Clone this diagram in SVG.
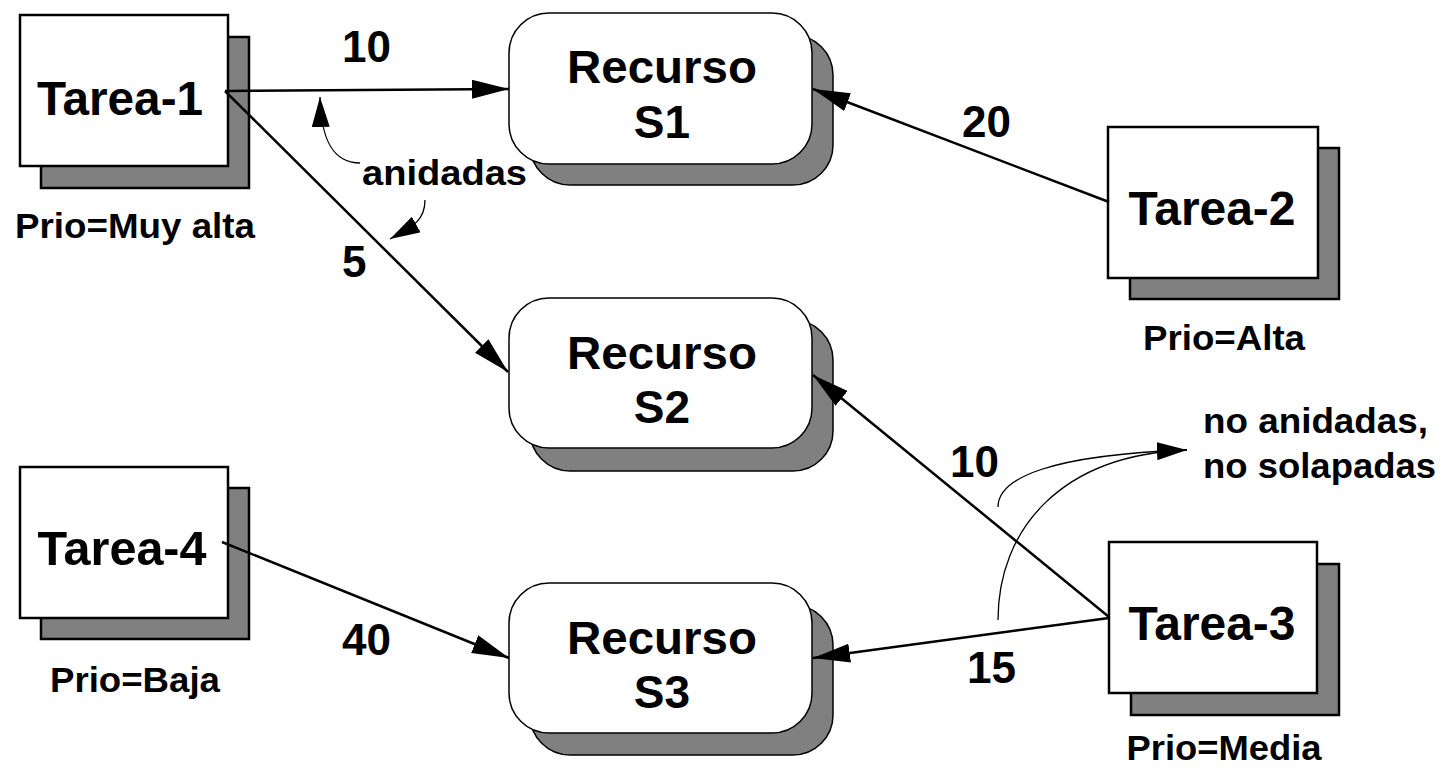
<svg xmlns="http://www.w3.org/2000/svg" width="1441" height="769" viewBox="0 0 1441 769">
<style>
text{font-family:"Liberation Sans",Arial,Helvetica,sans-serif;font-weight:bold;fill:#000}
.tf{fill:#fff;stroke:#000;stroke-width:2.5}
.ts{fill:#808080;stroke:#000;stroke-width:2.5}
.rf{fill:#fff;stroke:#000;stroke-width:1.5}
.rs{fill:#808080;stroke:#000;stroke-width:1.5}
.big{font-size:48px}
.res{font-size:46px}
.prio{font-size:35px}
.num{font-size:44px}
.note{font-size:35px}
.con{fill:none;stroke:#000;stroke-width:2.5}
.cur{fill:none;stroke:#000;stroke-width:1.3}
</style>
<defs>
<marker id="arr" markerUnits="userSpaceOnUse" markerWidth="38" markerHeight="20" refX="37" refY="9.5" orient="auto" viewBox="0 0 38 20">
<path d="M0,0 L37,9.5 L0,19 z" fill="#000"/>
</marker>
<marker id="arr2" markerUnits="userSpaceOnUse" markerWidth="31" markerHeight="18" refX="30" refY="9" orient="auto" viewBox="0 0 31 18">
<path d="M0,0 L30,9 L0,18 z" fill="#000"/>
</marker>
</defs>

<g id="tarea1">
<rect class="ts" x="41" y="37" width="208" height="151"/>
<rect class="tf" x="20" y="15" width="208" height="151"/>
<text class="big" x="120" y="115" text-anchor="middle" textLength="166" lengthAdjust="spacingAndGlyphs">Tarea-1</text>
<text class="prio" x="135" y="238" text-anchor="middle" textLength="240" lengthAdjust="spacingAndGlyphs">Prio=Muy alta</text>
</g>

<g id="tarea2">
<rect class="ts" x="1130" y="148" width="209" height="151"/>
<rect class="tf" x="1108" y="127" width="210" height="151"/>
<text class="big" x="1212" y="225" text-anchor="middle" textLength="167" lengthAdjust="spacingAndGlyphs">Tarea-2</text>
<text class="prio" x="1224" y="350" text-anchor="middle" textLength="162" lengthAdjust="spacingAndGlyphs">Prio=Alta</text>
</g>

<g id="tarea3">
<rect class="ts" x="1131" y="564" width="208" height="151"/>
<rect class="tf" x="1109" y="542" width="208" height="151"/>
<text class="big" x="1212" y="640" text-anchor="middle" textLength="167" lengthAdjust="spacingAndGlyphs">Tarea-3</text>
<text class="prio" x="1224" y="760" text-anchor="middle" textLength="195" lengthAdjust="spacingAndGlyphs">Prio=Media</text>
</g>

<g id="tarea4">
<rect class="ts" x="41" y="488" width="208" height="151"/>
<rect class="tf" x="20" y="467" width="208" height="151"/>
<text class="big" x="122" y="565" text-anchor="middle" textLength="169" lengthAdjust="spacingAndGlyphs">Tarea-4</text>
<text class="prio" x="135" y="692" text-anchor="middle" textLength="170" lengthAdjust="spacingAndGlyphs">Prio=Baja</text>
</g>

<g id="recursoS1">
<rect class="rs" x="530" y="35" width="303" height="150" rx="40" ry="40"/>
<rect class="rf" x="509" y="13" width="303" height="151" rx="40" ry="40"/>
<text class="res" x="662" y="83" text-anchor="middle" textLength="190" lengthAdjust="spacingAndGlyphs">Recurso</text>
<text class="res" x="662" y="138" text-anchor="middle">S1</text>
</g>

<g id="recursoS2">
<rect class="rs" x="530" y="320" width="303" height="151" rx="40" ry="40"/>
<rect class="rf" x="509" y="298" width="303" height="150" rx="40" ry="40"/>
<text class="res" x="662" y="369" text-anchor="middle" textLength="190" lengthAdjust="spacingAndGlyphs">Recurso</text>
<text class="res" x="662" y="423" text-anchor="middle">S2</text>
</g>

<g id="recursoS3">
<rect class="rs" x="530" y="605" width="303" height="150" rx="40" ry="40"/>
<rect class="rf" x="509" y="583" width="303" height="150" rx="40" ry="40"/>
<text class="res" x="662" y="654" text-anchor="middle" textLength="190" lengthAdjust="spacingAndGlyphs">Recurso</text>
<text class="res" x="662" y="708" text-anchor="middle">S3</text>
</g>

<g id="connectors">
<line class="con" x1="225" y1="91" x2="509" y2="89" marker-end="url(#arr)"/>
<line class="con" x1="225" y1="91" x2="508" y2="372" marker-end="url(#arr)"/>
<line class="con" x1="1109" y1="202" x2="813" y2="89" marker-end="url(#arr)"/>
<line class="con" x1="1109" y1="617" x2="813" y2="375" marker-end="url(#arr)"/>
<line class="con" x1="1109" y1="618" x2="813" y2="658" marker-end="url(#arr)"/>
<line class="con" x1="222" y1="542" x2="509" y2="658" marker-end="url(#arr)"/>

<path class="cur" d="M360,163 C333,163 321,140 320,97" marker-end="url(#arr2)"/>
<path class="cur" d="M425,200 C425,222 410,228 390,239" marker-end="url(#arr2)"/>
<path class="cur" d="M998,507 C998,478 1050,455 1187,450"/>
<path class="cur" d="M998,620 C998,530 1060,455 1187,450" marker-end="url(#arr2)"/>
</g>

<g id="labels">
<text class="num" x="342" y="62">10</text>
<text class="num" x="962" y="137">20</text>
<text class="num" x="342" y="277">5</text>
<text class="num" x="950" y="477">10</text>
<text class="num" x="342" y="655">40</text>
<text class="num" x="967" y="683">15</text>
<text class="note" x="362" y="185" textLength="165" lengthAdjust="spacingAndGlyphs">anidadas</text>
<text class="note" x="1203" y="433" textLength="225" lengthAdjust="spacingAndGlyphs">no anidadas,</text>
<text class="note" x="1203" y="478" textLength="233" lengthAdjust="spacingAndGlyphs">no solapadas</text>
</g>
</svg>
